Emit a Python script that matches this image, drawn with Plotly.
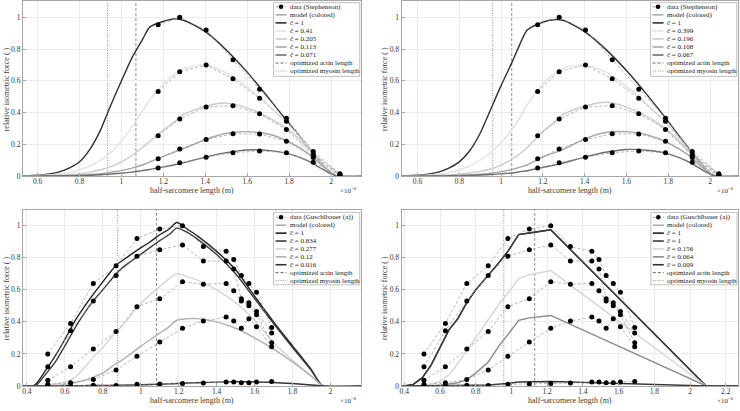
import plotly.graph_objects as go

W, H = 740, 411
FONT = "Liberation Serif"

# ---------------- data: Stephenson (top panels) ----------------
x_steph = [1.175, 1.278, 1.404, 1.532, 1.659, 1.787, 1.915, 2.042]
steph_a = [0.953, 1.0, 0.92, 0.733, 0.547, 0.364, 0.155, 0.015]
steph_b = [0.533, 0.658, 0.70, 0.613, 0.49, 0.345, 0.14, 0.012]
steph_c = [0.255, 0.36, 0.436, 0.444, 0.393, 0.294, 0.128, 0.01]
steph_d = [0.109, 0.171, 0.23, 0.267, 0.265, 0.22, 0.117, 0.006]
steph_e = [0.051, 0.084, 0.119, 0.148, 0.158, 0.148, 0.088, 0.004]

# ---------------- data: Guschlbauer (a) (bottom panels) ----------------
x_gus = [0.51, 0.63, 0.75, 0.87, 0.98, 1.10, 1.22, 1.33, 1.45, 1.49, 1.53, 1.57, 1.61, 1.69]
gus_a = [0.20, 0.39, 0.64, 0.75, 0.92, 0.98, 1.00, 0.87, 0.84, 0.79, 0.69, 0.64, 0.585, 0.365]
gus_b = [0.12, 0.345, 0.53, 0.69, 0.81, 0.85, 0.88, 0.78, 0.78, 0.73, 0.545, 0.52, 0.465, 0.33]
gus_c = [0.035, 0.12, 0.23, 0.34, 0.495, 0.545, 0.65, 0.635, 0.64, 0.595, 0.53, 0.50, 0.445, 0.27]
gus_d = [0.01, 0.02, 0.04, 0.10, 0.185, 0.275, 0.36, 0.405, 0.43, 0.405, 0.36, 0.42, 0.37, 0.245]
gus_e = [0.0, 0.0, 0.005, 0.003, 0.01, 0.012, 0.016, 0.018, 0.025, 0.025, 0.02, 0.02, 0.025, 0.027]

# ---------------- model curves: top-left ----------------
xm_tl = [0.53, 0.6, 0.65, 0.7, 0.75, 0.8, 0.85, 0.9, 0.95, 1.0, 1.05, 1.1, 1.136, 1.2, 1.25, 1.3,
         1.4, 1.5, 1.6, 1.7, 1.8, 1.9, 1.95, 2.0, 2.03, 2.143]
tl_c1 = [0.002, 0.006, 0.012, 0.025, 0.05, 0.09, 0.17, 0.29, 0.45, 0.60, 0.745, 0.86, 0.94, 0.975, 0.99, 0.98,
         0.91, 0.795, 0.655, 0.495, 0.33, 0.17, 0.09, 0.02, 0.0, 0.0]
tl_c2 = [0.001, 0.004, 0.007, 0.012, 0.022, 0.04, 0.065, 0.10, 0.15, 0.22, 0.31, 0.41, 0.48, 0.58, 0.64, 0.68,
         0.70, 0.65, 0.56, 0.45, 0.32, 0.17, 0.09, 0.025, 0.0, 0.0]
tl_c3 = [0.0, 0.002, 0.003, 0.006, 0.01, 0.015, 0.025, 0.04, 0.06, 0.09, 0.13, 0.18, 0.22, 0.29, 0.34, 0.39,
         0.44, 0.46, 0.43, 0.37, 0.29, 0.16, 0.085, 0.02, 0.0, 0.0]
tl_c4 = [0.0, 0.001, 0.002, 0.003, 0.004, 0.006, 0.01, 0.015, 0.025, 0.035, 0.05, 0.07, 0.09, 0.125, 0.15, 0.175,
         0.23, 0.27, 0.28, 0.265, 0.215, 0.135, 0.075, 0.02, 0.0, 0.0]
tl_c5 = [0.0, 0.0, 0.001, 0.002, 0.003, 0.004, 0.006, 0.009, 0.013, 0.018, 0.025, 0.035, 0.042, 0.058, 0.07, 0.085,
         0.12, 0.148, 0.165, 0.162, 0.14, 0.09, 0.05, 0.015, 0.0, 0.0]

# ---------------- model curves: top-right ----------------
xm_tr = [0.524, 0.6, 0.65, 0.7, 0.75, 0.8, 0.85, 0.9, 0.95, 1.0, 1.05, 1.1, 1.125, 1.2, 1.25, 1.3,
         1.4, 1.5, 1.6, 1.7, 1.8, 1.9, 1.95, 2.0, 2.03, 2.134]
tr_c1 = [0.002, 0.006, 0.012, 0.025, 0.05, 0.09, 0.16, 0.27, 0.42, 0.57, 0.71, 0.86, 0.92, 0.97, 0.985, 0.98,
         0.91, 0.80, 0.665, 0.51, 0.345, 0.17, 0.09, 0.02, 0.0, 0.0]
tr_c2 = [0.001, 0.004, 0.007, 0.012, 0.022, 0.04, 0.065, 0.10, 0.15, 0.21, 0.29, 0.39, 0.45, 0.58, 0.64, 0.68,
         0.70, 0.655, 0.565, 0.45, 0.32, 0.165, 0.085, 0.02, 0.0, 0.0]
tr_c3 = [0.0, 0.002, 0.003, 0.005, 0.008, 0.012, 0.02, 0.03, 0.045, 0.07, 0.105, 0.15, 0.18, 0.28, 0.335, 0.39,
         0.44, 0.465, 0.435, 0.375, 0.285, 0.155, 0.08, 0.02, 0.0, 0.0]
tr_c4 = [0.0, 0.001, 0.001, 0.002, 0.003, 0.005, 0.008, 0.012, 0.018, 0.028, 0.04, 0.06, 0.07, 0.12, 0.145, 0.17,
         0.235, 0.275, 0.28, 0.26, 0.21, 0.13, 0.07, 0.018, 0.0, 0.0]
tr_c5 = [0.0, 0.0, 0.001, 0.001, 0.002, 0.003, 0.005, 0.007, 0.01, 0.015, 0.02, 0.03, 0.034, 0.055, 0.068, 0.083,
         0.12, 0.15, 0.168, 0.163, 0.14, 0.088, 0.05, 0.013, 0.0, 0.0]

# ---------------- model curves: bottom-left ----------------
xm_bl = [0.379, 0.43, 0.45, 0.5, 0.55, 0.6, 0.65, 0.7, 0.75, 0.8, 0.87, 0.9, 0.98, 1.05, 1.1, 1.15, 1.19,
         1.25, 1.3, 1.4, 1.5, 1.6, 1.7, 1.8, 1.9, 1.96, 2.161]
bl_c1 = [0.0, 0.0, 0.015, 0.10, 0.19, 0.29, 0.40, 0.49, 0.573, 0.65, 0.754, 0.78, 0.846, 0.90, 0.944, 0.98, 1.02,
         0.975, 0.935, 0.84, 0.725, 0.56, 0.40, 0.25, 0.10, 0.0, 0.0]
bl_c2 = [0.0, 0.0, 0.005, 0.075, 0.15, 0.25, 0.355, 0.45, 0.532, 0.60, 0.70, 0.735, 0.805, 0.865, 0.907, 0.945, 0.985,
         0.955, 0.915, 0.82, 0.70, 0.545, 0.39, 0.24, 0.095, 0.0, 0.0]
bl_c3 = [0.0, 0.0, 0.0, 0.005, 0.012, 0.025, 0.05, 0.11, 0.18, 0.24, 0.34, 0.37, 0.49, 0.57, 0.62, 0.67, 0.70,
         0.68, 0.66, 0.60, 0.52, 0.41, 0.27, 0.16, 0.06, 0.0, 0.0]
bl_c4 = [0.0, 0.0, 0.0, 0.0, 0.003, 0.01, 0.02, 0.035, 0.055, 0.08, 0.14, 0.16, 0.23, 0.29, 0.33, 0.37, 0.41,
         0.42, 0.42, 0.40, 0.36, 0.30, 0.23, 0.15, 0.06, 0.0, 0.0]
bl_c5 = [0.0, 0.0, 0.0, 0.0, 0.0, 0.001, 0.001, 0.002, 0.003, 0.003, 0.004, 0.005, 0.007, 0.009, 0.011, 0.013, 0.015,
         0.018, 0.02, 0.024, 0.026, 0.025, 0.022, 0.015, 0.006, 0.0, 0.0]

# ---------------- model curves: bottom-right ----------------
xm_br = [0.385, 0.4, 0.45, 0.5, 0.55, 0.6, 0.65, 0.7, 0.75, 0.8, 0.87, 0.93, 0.98, 1.04, 1.1, 1.22, 2.09, 2.27]
br_c1 = [0.0, 0.0, 0.01, 0.05, 0.13, 0.24, 0.35, 0.42, 0.52, 0.60, 0.69, 0.77, 0.84, 0.945, 0.955, 0.975, 0.0, 0.0]
br_c2 = [0.0, 0.0, 0.01, 0.05, 0.13, 0.24, 0.35, 0.42, 0.52, 0.60, 0.69, 0.77, 0.84, 0.945, 0.955, 0.975, 0.0, 0.0]
br_c3 = [0.0, 0.0, 0.0, 0.003, 0.01, 0.03, 0.07, 0.14, 0.22, 0.30, 0.41, 0.51, 0.58, 0.67, 0.695, 0.72, 0.0, 0.0]
br_c4 = [0.0, 0.0, 0.0, 0.0, 0.002, 0.005, 0.012, 0.02, 0.04, 0.08, 0.15, 0.25, 0.32, 0.41, 0.425, 0.44, 0.0, 0.0]
br_c5 = [0.0, 0.0, 0.0, 0.0, 0.0, 0.0, 0.001, 0.002, 0.003, 0.004, 0.006, 0.01, 0.015, 0.025, 0.027, 0.028, 0.0, 0.0]

# optimized lengths (vertical lines): [myosin (dotted), actin (dashed)]
vlines_tl = [0.934, 1.069]
vlines_tr = [0.960, 1.051]
vlines_bl = [0.878, 1.083]
vlines_br = [0.957, 1.130]

# legend labels
ctilde_tl = ["1", "0.41", "0.205", "0.113", "0.071"]
ctilde_tr = ["1", "0.399", "0.196", "0.108", "0.067"]
ctilde_bl = ["1", "0.834", "0.277", "0.12", "0.016"]
ctilde_br = ["1", "1", "0.156", "0.064", "0.009"]

x_ranges = {"tl": [0.53, 2.143], "tr": [0.524, 2.134], "bl": [0.379, 2.161], "br": [0.385, 2.27]}

top_colors = ["#303030", "#e2e2e2", "#cbcbcb", "#a6a6a6", "#6e6e6e"]
bl_colors = ["#222222", "#3c3c3c", "#d6d6d6", "#b0b0b0", "#333333"]
br_colors = ["#222222", "#3c3c3c", "#d6d6d6", "#8a8a8a", "#333333"]

DASH = "3px,2px"
DOT = "1px,1.5px"


def px(x):
    return x / W


def py(y):
    return 1 - y / H


panels = [
    dict(key="tl", s="", xd=x_steph, data=[steph_a, steph_b, steph_c, steph_d, steph_e],
         xm=xm_tl, model=[tl_c1, tl_c2, tl_c3, tl_c4, tl_c5], colors=top_colors, shape="spline",
         vl=vlines_tl, ct=ctilde_tl, src="data (Stephenson)",
         dom_x=[21, 360], dom_y=[1.5, 178.3]),
    dict(key="tr", s="2", xd=x_steph, data=[steph_a, steph_b, steph_c, steph_d, steph_e],
         xm=xm_tr, model=[tr_c1, tr_c2, tr_c3, tr_c4, tr_c5], colors=top_colors, shape="spline",
         vl=vlines_tr, ct=ctilde_tr, src="data (Stephenson)",
         dom_x=[400.7, 738], dom_y=[1.5, 178.3]),
    dict(key="bl", s="3", xd=x_gus, data=[gus_a, gus_b, gus_c, gus_d, gus_e],
         xm=xm_bl, model=[bl_c1, bl_c2, bl_c3, bl_c4, bl_c5], colors=bl_colors, shape="spline",
         vl=vlines_bl, ct=ctilde_bl, src="data (Guschlbauer (a))",
         dom_x=[21, 360], dom_y=[212.3, 390.7]),
    dict(key="br", s="4", xd=x_gus, data=[gus_a, gus_b, gus_c, gus_d, gus_e],
         xm=xm_br, model=[br_c1, br_c2, br_c3, br_c4, br_c5], colors=br_colors, shape="linear",
         vl=vlines_br, ct=ctilde_br, src="data (Guschlbauer (a))",
         dom_x=[400.7, 738.3], dom_y=[212.3, 390.7]),
]

fig = go.Figure()
shapes = []
annotations = []
layout_axes = {}

for p in panels:
    s = p["s"]
    xa, ya = "x" + s, "y" + s
    for ym, col in zip(p["model"], p["colors"]):
        line = dict(color=col, width=1.4, shape=p["shape"])
        if p["shape"] == "spline":
            line["smoothing"] = 0.7
        fig.add_trace(go.Scatter(x=p["xm"], y=ym, mode="lines", line=line, xaxis=xa, yaxis=ya,
                                 showlegend=False, hoverinfo="skip"))
    for yd in p["data"]:
        fig.add_trace(go.Scatter(x=p["xd"], y=yd, mode="lines+markers",
                                 line=dict(color="#9a9a9a", width=0.7, dash=DASH),
                                 marker=dict(color="black", size=5),
                                 xaxis=xa, yaxis=ya, showlegend=False, hoverinfo="skip"))
    for xv, dash in zip(p["vl"], [DOT, DASH]):
        shapes.append(dict(type="line", xref=xa, yref=ya + " domain", x0=xv, x1=xv, y0=0, y1=1,
                           line=dict(color="#8c8c8c", width=1, dash=dash), layer="below"))

    x0p, x1p = p["dom_x"]
    y0p, y1p = p["dom_y"]
    ax_common = dict(showgrid=True, gridcolor="#ebebeb", gridwidth=1, zeroline=False,
                     showline=True, mirror=True, linecolor="#a6a6a6", linewidth=1,
                     ticks="inside", ticklen=3, tickcolor="#a6a6a6",
                     tickfont=dict(family=FONT, size=7.5, color="#333333"))
    layout_axes["xaxis" + s] = dict(domain=[px(x0p), px(x1p)], range=x_ranges[p["key"]], anchor=ya,
                                    tick0=0, dtick=0.2, **ax_common)
    layout_axes["yaxis" + s] = dict(domain=[py(y1p), py(y0p)], range=[0, 1.1], anchor=xa,
                                    tick0=0, dtick=0.2, **ax_common)

    annotations.append(dict(text="half-sarcomere length (m)", xref="paper", yref="paper",
                            x=px((x0p + x1p) / 2), y=py(y1p + 14.3), showarrow=False,
                            xanchor="center", yanchor="middle",
                            font=dict(family=FONT, size=8, color="#3a3a3a")))
    annotations.append(dict(text="×10<sup>−6</sup>", xref="paper", yref="paper",
                            x=px(x1p - 2), y=py(y1p + 14.3), showarrow=False,
                            xanchor="right", yanchor="middle",
                            font=dict(family=FONT, size=7, color="#333333")))
    annotations.append(dict(text="relative isometric force ( )", xref="paper", yref="paper",
                            x=px(x0p - 16.5), y=py((y0p + y1p) / 2), showarrow=False, textangle=-90,
                            xanchor="center", yanchor="middle",
                            font=dict(family=FONT, size=8, color="#3a3a3a")))

    lx0 = x1p - 87.7
    lx1 = x1p - 1.3
    if p["key"] in ("tl", "tr"):
        ly0, ly1, r0, dr = 2.7, 77.3, 6.9, 8.13
    else:
        ly0, ly1, r0, dr = 215.0, 288.3, 220.0, 8.0
    shapes.append(dict(type="rect", xref="paper", yref="paper", x0=px(lx0), x1=px(lx1),
                       y0=py(ly1), y1=py(ly0), fillcolor="white",
                       line=dict(color="#b0b0b0", width=0.8), layer="above"))
    sx0, sx1 = lx0 + 2, lx0 + 13
    labels = [p["src"], "model (colored)"] + ["c̃ = " + c for c in p["ct"]] + \
             ["optimized actin length", "optimized myosin length"]
    styles = [("#8a8a8a", 0.8, DASH)] + [("#a0a0a0", 1.4, "solid")] + \
             [(c, 1.6, "solid") for c in p["colors"]] + \
             [("#555555", 0.9, DASH), ("#8a8a8a", 0.9, DOT)]
    for i, (lab, (col, wdt, dsh)) in enumerate(zip(labels, styles)):
        yy = r0 + i * dr
        shapes.append(dict(type="line", xref="paper", yref="paper", x0=px(sx0), x1=px(sx1),
                           y0=py(yy), y1=py(yy), line=dict(color=col, width=wdt, dash=dsh),
                           layer="above"))
        if i == 0:
            cx = (sx0 + sx1) / 2
            shapes.append(dict(type="circle", xref="paper", yref="paper",
                               x0=px(cx - 2.3), x1=px(cx + 2.3), y0=py(yy + 2.3), y1=py(yy - 2.3),
                               fillcolor="black", line=dict(color="black", width=0), layer="above"))
        annotations.append(dict(text=lab, xref="paper", yref="paper", x=px(sx1 + 1.2), y=py(yy),
                                showarrow=False, xanchor="left", yanchor="middle",
                                font=dict(family=FONT, size=7, color="#222222")))

fig.update_layout(
    width=W, height=H, margin=dict(l=0, r=0, t=0, b=0),
    paper_bgcolor="white", plot_bgcolor="white",
    showlegend=False, shapes=shapes, annotations=annotations,
    font=dict(family=FONT, size=8, color="#333333"),
    hovermode=False,
    **layout_axes,
)

for s in ["", "2", "3", "4"]:
    try:
        fig.layout["xaxis" + s].ticklabelstandoff = -2
    except Exception:
        pass

fig.write_html("out.html",
               config={"displayModeBar": False, "staticPlot": True},
               post_script="document.body.style.margin='0';document.body.style.padding='0';"
                           "document.documentElement.style.overflow='hidden';")
